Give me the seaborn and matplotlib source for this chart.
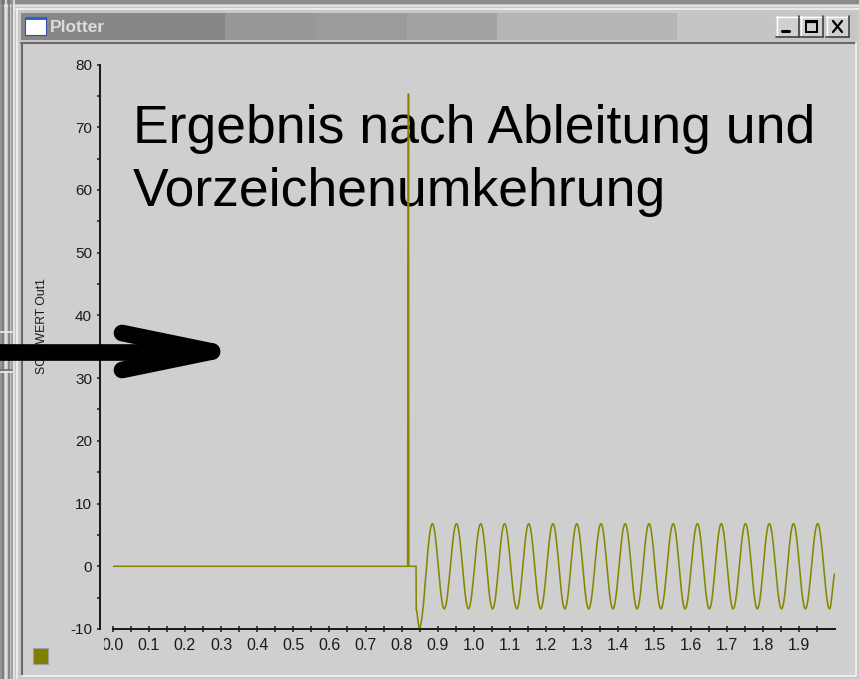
import numpy as np
import pandas as pd
import matplotlib
matplotlib.use("Agg")
import matplotlib.pyplot as plt
import seaborn as sns
from matplotlib.patches import Rectangle
from matplotlib.lines import Line2D
from matplotlib.transforms import Bbox, TransformedBbox

W, H = 859, 679

# ---- signal: SOLLWERT Out1 after differentiation and sign inversion ----
# leading flat part, derivative spike and the step into the oscillation
lead_t = [0.0, 0.8165, 0.8175, 0.8190, 0.8198, 0.8400, 0.8405]
lead_v = [0.0, 0.0, 37.7, 75.3, 0.0, 0.0, -7.0]

# turning points of the oscillation (time, value)
turn_t = [0.849,
          0.885, 0.918, 0.952, 0.985, 1.019, 1.052, 1.085, 1.119,
          1.152, 1.185, 1.219, 1.252, 1.285, 1.318, 1.352, 1.385,
          1.419, 1.452, 1.485, 1.518, 1.552, 1.585, 1.619, 1.652,
          1.685, 1.718, 1.752, 1.785, 1.818, 1.852, 1.885, 1.918,
          1.952, 1.985, 2.000]
turn_v = [-9.8,
          6.8, -6.8, 6.8, -6.8, 6.8, -6.8, 6.8, -6.8,
          6.8, -6.8, 6.8, -6.8, 6.8, -6.8, 6.8, -6.8,
          6.8, -6.8, 6.8, -6.8, 6.8, -6.8, 6.8, -6.8,
          6.8, -6.8, 6.8, -6.8, 6.8, -6.8, 6.8, -6.8,
          6.8, -6.8, -1.2]

y_ticks = [-10, 0, 10, 20, 30, 40, 50, 60, 70, 80]
x_ticks = [0.0, 0.1, 0.2, 0.3, 0.4, 0.5, 0.6, 0.7, 0.8, 0.9,
           1.0, 1.1, 1.2, 1.3, 1.4, 1.5, 1.6, 1.7, 1.8, 1.9]
x_labels = ["0.0", "0.1", "0.2", "0.3", "0.4", "0.5", "0.6", "0.7", "0.8", "0.9",
            "1.0", "1.1", "1.2", "1.3", "1.4", "1.5", "1.6", "1.7", "1.8", "1.9"]

# smooth half-cosine path through the turning points
seg_t, seg_v = [lead_t[-1]], [lead_v[-1]]
pts_t = [lead_t[-1]] + turn_t
pts_v = [lead_v[-1]] + turn_v
for i in range(len(pts_t) - 1):
    s = np.linspace(0, 1, 16)[1:]
    seg_t.extend(pts_t[i] + (pts_t[i + 1] - pts_t[i]) * s)
    seg_v.extend(pts_v[i] + (pts_v[i + 1] - pts_v[i]) * (1 - np.cos(np.pi * s)) / 2)
df = pd.DataFrame({"t": list(lead_t[:-1]) + seg_t, "v": list(lead_v[:-1]) + seg_v})

sns.set_theme(style="ticks")
plt.rcParams["font.family"] = ["Liberation Sans", "DejaVu Sans"]
plt.rcParams["axes.unicode_minus"] = False

fig = plt.figure(figsize=(W / 100, H / 100), dpi=100)
fig.patch.set_facecolor("#c4c4c4")


def px_rect(x, y, w, h, z=-10, **kw):
    fig.add_artist(Rectangle((x / W, 1 - (y + h) / H), w / W, h / H,
                             transform=fig.transFigure, zorder=z, **kw))


def px_line(xs, ys, z=-9, **kw):
    fig.add_artist(Line2D([x / W for x in xs], [1 - y / H for y in ys],
                          transform=fig.transFigure, zorder=z, **kw))


# desktop and neighbouring window edges on the left
px_rect(0, 0, W, H, fc="#c4c4c4", ec="none", z=-12)
px_rect(0, 0, W, 4, fc="#8a8a8a", ec="none")
px_line([0, W], [5.5, 5.5], color="#e6e6e6", lw=1.2)
for x, c in [(1, "#8c8c8c"), (3.5, "#6e6e6e"), (6, "#e4e4e4"), (9, "#7a7a7a"),
             (11.5, "#9a9a9a"), (14, "#e8e8e8")]:
    px_line([x, x], [0, H], color=c, lw=1.2)
px_line([0, 12], [332, 332], color="#eeeeee", lw=1.2)
px_line([0, 12], [370, 370], color="#707070", lw=1.2)
px_line([0, 12], [372, 372], color="#eeeeee", lw=1.2)

# window frame
px_rect(16, 8, W - 16, H - 8, fc="#c8c8c8", ec="none")
px_line([16, W], [9, 9], color="#f2f2f2", lw=1.2)
px_line([17, 17], [9, H], color="#f2f2f2", lw=1.2)

# title bar in blocks of grey
for x0, x1, c in [(21, 225, "#878787"), (225, 317, "#979797"), (317, 407, "#9b9b9b"),
                  (407, 497, "#a3a3a3"), (497, 677, "#b5b5b5"), (677, 856, "#c5c5c5")]:
    px_rect(x0, 13, x1 - x0, 27, fc=c, ec="none")
px_rect(25, 17, 21, 18, fc="white", ec="#3050b0", lw=0.8, z=-8)
px_rect(25, 17, 21, 3, fc="#3060d0", ec="none", z=-7)
fig.text(50 / W, 1 - 27 / H, "Plotter", color="#dcdcdc", fontsize=12.5,
         fontweight="bold", ha="left", va="center", zorder=-5)

# caption buttons
for bx, glyph in [(776, "min"), (800, "max"), (826, "close")]:
    px_rect(bx, 16, 23, 21, fc="#d0d0d0", ec="none", z=-8)
    px_line([bx, bx + 23], [16.5, 16.5], color="white", lw=1, z=-7)
    px_line([bx + 0.5, bx + 0.5], [16, 37], color="white", lw=1, z=-7)
    px_line([bx, bx + 23], [37, 37], color="#404040", lw=1.2, z=-7)
    px_line([bx + 23, bx + 23], [16, 37], color="#404040", lw=1.2, z=-7)
    if glyph == "min":
        px_line([bx + 6, bx + 13], [31, 31], color="black", lw=2.2, z=-6)
    elif glyph == "max":
        px_rect(bx + 6, 21, 11, 11, fc="none", ec="black", lw=1.4, z=-6)
        px_line([bx + 6, bx + 17], [22, 22], color="black", lw=1.6, z=-6)
    else:
        px_line([bx + 7, bx + 16], [21, 32], color="black", lw=1.6, z=-6)
        px_line([bx + 16, bx + 7], [21, 32], color="black", lw=1.6, z=-6)

# client area
px_rect(21, 43, 834, 633, fc="#cfcfcf", ec="none")
px_line([21, 855], [43, 43], color="#6a6a6a", lw=1.5)
px_line([21.5, 21.5], [43, 676], color="#6a6a6a", lw=1.5)
px_line([21, 855], [676, 676], color="#f4f4f4", lw=1.2)
px_line([855.5, 855.5], [43, 676], color="#f4f4f4", lw=1.2)

# plot axes
x0, x1, ytop, ybot = 112.7, 835.0, 64.5, 629.0
ax = fig.add_axes([x0 / W, 1 - ybot / H, (x1 - x0) / W, (ybot - ytop) / H])
ax.set_facecolor("none")
sns.lineplot(data=df, x="t", y="v", ax=ax, estimator=None, sort=False,
             color="#868600", lw=1.15, zorder=3)
ax.set_xlim(0, 2.0)
ax.set_ylim(-10, 80)

ax.set_yticks(y_ticks)
ax.set_yticks(np.arange(-5, 80, 10), minor=True)
ax.set_xticks(x_ticks)
ax.set_xticklabels(x_labels)
ax.set_xticks(np.arange(0.05, 2.01, 0.1), minor=True)
ax.set_xlabel("")
ax.set_ylabel("SOLLWERT Out1", fontsize=8.8, color="#1a1a1a")
ax.yaxis.set_label_coords((48 - x0) / (x1 - x0), (ybot - 326) / (ybot - ytop))

for side in ["top", "right"]:
    ax.spines[side].set_visible(False)
for side in ["left", "bottom"]:
    ax.spines[side].set_color("#1a1a1a")
    ax.spines[side].set_linewidth(1.45)
ax.spines["left"].set_position(("outward", 9.5))

ax.tick_params(axis="y", which="both", direction="out", length=2.4, width=1.1,
               color="#1a1a1a", labelsize=11, labelcolor="#1a1a1a", pad=3)
ax.tick_params(axis="x", which="both", direction="inout", length=4.6, width=1.1,
               color="#1a1a1a", labelsize=11.5, labelcolor="#1a1a1a", pad=4)

# first x label runs under the left edge of the scale
clip = TransformedBbox(Bbox.from_extents(104 / W, 0, 1, 1), fig.transFigure)
lbl0 = ax.get_xticklabels()[0]
lbl0.set_clip_box(clip)
lbl0.set_clip_on(True)

# caption over the plot area
ax.text(133 / W, 1 - 143 / H, "Ergebnis nach Ableitung und", transform=fig.transFigure,
        fontsize=38.5, color="black", ha="left", va="baseline", zorder=1, clip_on=False)
ax.text(133 / W, 1 - 206 / H, "Vorzeichenumkehrung", transform=fig.transFigure,
        fontsize=38.5, color="black", ha="left", va="baseline", zorder=1, clip_on=False)

# series swatch
px_rect(33, 648, 15, 16, fc="#808000", ec="#a0a0a0", lw=0.8, z=2)

# pointer arrow
arrow_kw = dict(color="black", lw=12.0, solid_capstyle="round", z=20)
px_line([-10, 200], [351.5, 351.5], **arrow_kw)
px_line([122, 212], [333, 351.5], **arrow_kw)
px_line([122, 212], [370, 351.5], **arrow_kw)

fig.savefig("out.png", dpi=100, facecolor=fig.get_facecolor())
